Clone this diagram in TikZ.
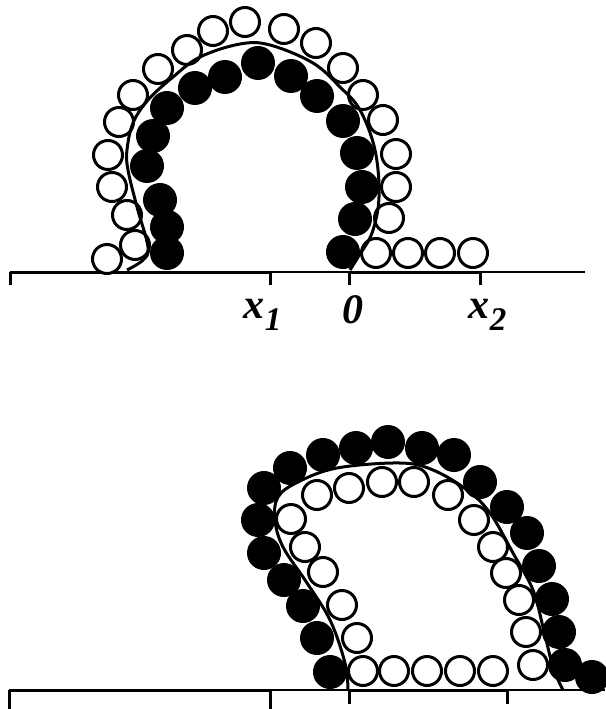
\documentclass[tikz,border=0pt]{standalone}
\usepackage{fontspec}
\setmainfont{Liberation Serif}
\usetikzlibrary{positioning}
\begin{document}
\begin{tikzpicture}[x=1pt,y=-1pt,line cap=butt]
  \tikzstyle{wbead}=[draw, circle, line width=3pt, fill=white, minimum size=29pt, inner sep=0pt]
  \tikzstyle{bbead}=[circle, fill=black, minimum size=34pt, inner sep=0pt]
  \tikzstyle{axis}=[line width=1.5pt]
  \tikzstyle{seg}=[line width=3pt]
  \tikzstyle{chain}=[line width=3pt]
  \tikzstyle{lbl}=[inner sep=0pt, anchor=base, font=\bfseries\itshape\fontsize{42}{42}\selectfont]
  \tikzstyle{sub}=[inner sep=0pt, font=\bfseries\itshape\fontsize{33}{33}\selectfont]

  \useasboundingbox (0,0) rectangle (605,709);

  \coordinate (ta) at (10,272);
  \coordinate (tb) at (585,272);
  \coordinate (tx1) at (270,272);
  \coordinate (t0) at (349,272);
  \coordinate (tx2) at (480,272);
  \draw[axis] (ta) -- (tb);
  \draw[seg] (ta) -- (tx1);
  \draw[seg] (t0) -- (tx2);
  \foreach \c in {ta,tx1,t0,tx2}
    \draw[seg] (\c) -- ++(0,13);

  \foreach \x/\y [count=\i] in {167/253,167/227,160/200,147/166,153/136,167/108,195/88,225/77,
      258/63,291/76,317/96,343/121,357/153,362/187,355/219,343/252}
    \node[bbead] (tf\i) at (\x,\y) {};
  \foreach \x/\y [count=\i] in {107/259,135/245,127/215,112/187,108/155,119/122,133/95,158/69,
      187/50,213/31,245/22,284/29,316/43,343/68,363/95,383/120,396/154,396/187,389/218,
      376/253,408/253,440/253,473/253}
    \node[wbead] (tw\i) at (\x,\y) {};

  \draw[chain] plot[smooth, tension=0.6] coordinates {(127,270) (143,260) (148,247) (137,207)
      (128,170) (127,150) (133,123) (148,100) (173,77) (200,57) (240,44) (270,45) (313,63)
      (340,87) (360,110) (375,150) (379,197) (372,233) (358,257) (350,270)};

  \node[lbl] (lx1) at (254,318) {x};
  \node[sub, right=0pt of lx1.base east, anchor=base west, yshift=-12pt] (lx1s) {1};
  \node[lbl] (l0) at (353,323) {0};
  \node[lbl] (lx2) at (479,318) {x};
  \node[sub, right=0pt of lx2.base east, anchor=base west, yshift=-12pt] (lx2s) {2};

  \coordinate (ba) at (9,690);
  \coordinate (bb) at (605,690);
  \coordinate (bx1) at (270,690);
  \coordinate (b0) at (349,690);
  \coordinate (bx2) at (507,690);
  \draw[axis] (ba) -- (bb);
  \draw[seg] (ba) -- (bx1);
  \draw[seg] (b0) -- (bx2);
  \draw[seg] (ba) -- ++(0,19);
  \draw[seg] (bx1) -- ++(0,19);
  \draw[seg] (b0) -- ++(0,14);
  \draw[seg] (bx2) -- ++(0,14);

  \foreach \x/\y [count=\i] in {330/672,317/638,303/606,284/580,264/553,258/520,264/488,290/468,
      323/455,356/448,388/442,422/448,454/455,480/482,507/507,527/533,539/566,552/599,
      559/632,565/665,592/677}
    \node[bbead] (bf\i) at (\x,\y) {};
  \foreach \x/\y [count=\i] in {363/671,394/671,427/671,460/671,493/671,357/638,342/605,323/572,
      305/547,291/519,317/495,349/488,382/482,414/482,448/495,474/520,493/547,506/573,
      519/600,526/632,533/665}
    \node[wbead] (bw\i) at (\x,\y) {};

  \draw[chain] plot[smooth, tension=0.6] coordinates {(348,690) (345,663) (330,620) (307,583)
      (283,547) (275,520) (278,497) (298,482) (337,468) (400,463) (433,470) (467,490)
      (490,513) (513,553) (533,590) (543,627) (553,667) (563,690)};
\end{tikzpicture}
\end{document}
